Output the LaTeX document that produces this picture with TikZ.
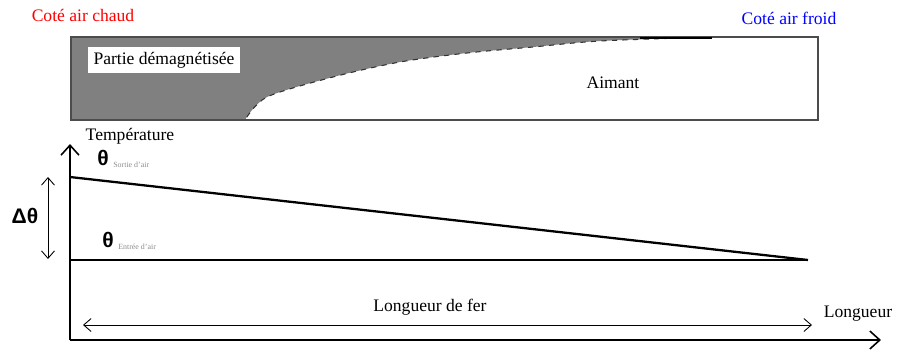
\documentclass[tikz,border=0pt]{standalone}
\usepackage{fontspec}
\setmainfont{Liberation Serif}
\newfontfamily\grkfont{Liberation Sans}
\usetikzlibrary{arrows.meta,positioning}
\definecolor{demagray}{rgb}{0.50,0.50,0.50}
\definecolor{cadre}{rgb}{0.30,0.30,0.30}
\definecolor{indice}{rgb}{0.55,0.55,0.55}
\tikzset{
  etiquette/.style={
    font=\rmfamily\normalsize,
    inner sep=1pt
  },
  chaud/.style={
    etiquette,
    text=red
  },
  froid/.style={
    etiquette,
    text=blue
  },
  boite/.style={
    etiquette,
    fill=white,
    inner sep=3pt
  },
  theta/.style={
    font=\grkfont\bfseries\large,
    inner sep=0pt
  },
  sousindice/.style={
    font=\rmfamily\fontsize{4.5}{5}\selectfont,
    text=indice,
    inner sep=0pt
  },
  axe/.style={
    -{Straight Barb[length=2mm,width=3.6mm]},
    line width=.9pt
  },
  cote/.style={
    {Straight Barb[length=1.5mm,width=2.6mm]}-{Straight Barb[length=1.5mm,width=2.6mm]},
    line width=.5pt
  }
}

\begin{document}
\begin{tikzpicture}[x=0.02cm,y=-0.02cm]
\useasboundingbox (0,0) rectangle (897,353);
% aimant et partie demagnetisee
\fill[demagray] (71,37) -- (712,37)
  -- plot[smooth] coordinates {(712,37) (600,41) (533,47) (467,53) (400,62) (333,77) (267,97) (245,120)}
  -- (71,120) -- cycle;
\draw[dashed,line width=.6pt,black!80] plot[smooth] coordinates {(712,37) (600,41) (533,47) (467,53) (400,62) (333,77) (267,97) (245,120)};
\draw[cadre,line width=1pt] (71,37) rectangle (818,120);
\draw[line width=1.4pt] (640,38) -- (712,38);
\node[chaud] (chaud) at (83,15) {Coté air chaud};
\node[froid] (froid) at (789,18) {Coté air froid};
\node[boite] (demag) at (164,60) {Partie démagnétisée};
\node[etiquette] (aimant) at (613,83) {Aimant};
% axes
\coordinate (O) at (70,340);
\coordinate (ytop) at (70,144);
\coordinate (xfin) at (881,340);
\draw[axe] (O) -- (ytop);
\draw[axe] (O) -- (xfin);
\node[etiquette] (temp) at (130,136) {Température};
\node[etiquette] (long) at (858,314) {Longueur};
% temperatures
\coordinate (sortie) at (70,177);
\coordinate (entree) at (70,260);
\coordinate (fin) at (808,260);
\draw[line width=1.3pt] (sortie) -- (fin);
\draw[line width=.7pt] (entree) -- (fin);
\node[theta] (tsortie) at (103,158) {θ};
\node[sousindice,anchor=west] (ssortie) at (113,165) {Sortie d'air};
\node[theta] (tentree) at (108,240) {θ};
\node[sousindice,anchor=west] (sentree) at (118,247) {Entrée d'air};
% ecart
\coordinate (dtH) at (48,177);
\coordinate (dtB) at (48,259);
\draw[cote] (dtH) -- (dtB);
\node[theta] (dtheta) at (25,216) {Δθ};
% longueur de fer
\coordinate (lfA) at (83,325);
\coordinate (lfB) at (812,325);
\draw[cote] (lfA) -- (lfB);
\node[etiquette] (fer) at (430,307) {Longueur de fer};
\end{tikzpicture}
\end{document}
